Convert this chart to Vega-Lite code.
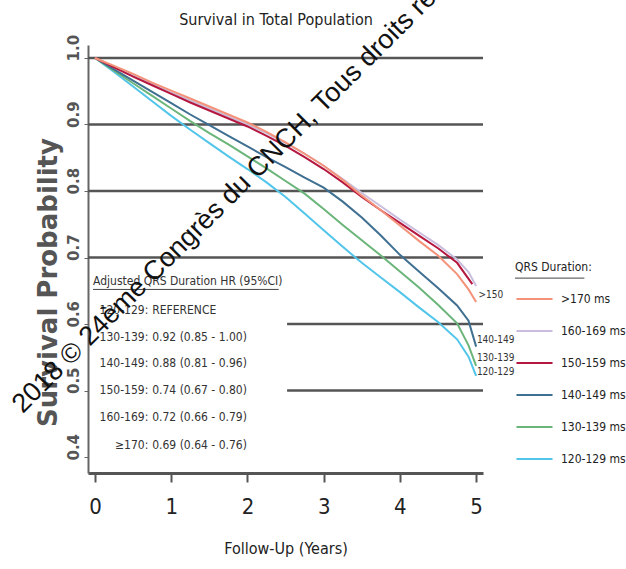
{
  "$schema": "https://vega.github.io/schema/vega-lite/v6.json",
  "width": 395,
  "height": 428,
  "autosize": {"type": "none"},
  "padding": {"left": 88, "top": 45, "right": 143, "bottom": 96},
  "background": "white",
  "config": {"view": {"stroke": null}, "font": "DejaVu Sans Condensed, Liberation Sans, sans-serif"},
  "datasets": {
    "km": [
      {"g": "120-129 ms", "year": 0, "surv": 1.0}, {"g": "120-129 ms", "year": 0.25, "surv": 0.979}, {"g": "120-129 ms", "year": 0.5, "surv": 0.957}, {"g": "120-129 ms", "year": 0.75, "surv": 0.935}, {"g": "120-129 ms", "year": 1, "surv": 0.913}, {"g": "120-129 ms", "year": 1.25, "surv": 0.892}, {"g": "120-129 ms", "year": 1.5, "surv": 0.872}, {"g": "120-129 ms", "year": 1.75, "surv": 0.852}, {"g": "120-129 ms", "year": 2, "surv": 0.833}, {"g": "120-129 ms", "year": 2.25, "surv": 0.813}, {"g": "120-129 ms", "year": 2.5, "surv": 0.791}, {"g": "120-129 ms", "year": 2.75, "surv": 0.766}, {"g": "120-129 ms", "year": 3, "surv": 0.741}, {"g": "120-129 ms", "year": 3.25, "surv": 0.716}, {"g": "120-129 ms", "year": 3.5, "surv": 0.692}, {"g": "120-129 ms", "year": 3.75, "surv": 0.67}, {"g": "120-129 ms", "year": 4, "surv": 0.648}, {"g": "120-129 ms", "year": 4.25, "surv": 0.625}, {"g": "120-129 ms", "year": 4.5, "surv": 0.603}, {"g": "120-129 ms", "year": 4.75, "surv": 0.577}, {"g": "120-129 ms", "year": 4.9, "surv": 0.551}, {"g": "120-129 ms", "year": 5, "surv": 0.522},
      {"g": "130-139 ms", "year": 0, "surv": 1.0}, {"g": "130-139 ms", "year": 0.25, "surv": 0.981}, {"g": "130-139 ms", "year": 0.5, "surv": 0.962}, {"g": "130-139 ms", "year": 0.75, "surv": 0.943}, {"g": "130-139 ms", "year": 1, "surv": 0.924}, {"g": "130-139 ms", "year": 1.25, "surv": 0.905}, {"g": "130-139 ms", "year": 1.5, "surv": 0.887}, {"g": "130-139 ms", "year": 1.75, "surv": 0.87}, {"g": "130-139 ms", "year": 2, "surv": 0.852}, {"g": "130-139 ms", "year": 2.25, "surv": 0.834}, {"g": "130-139 ms", "year": 2.5, "surv": 0.815}, {"g": "130-139 ms", "year": 2.75, "surv": 0.796}, {"g": "130-139 ms", "year": 3, "surv": 0.773}, {"g": "130-139 ms", "year": 3.25, "surv": 0.749}, {"g": "130-139 ms", "year": 3.5, "surv": 0.726}, {"g": "130-139 ms", "year": 3.75, "surv": 0.703}, {"g": "130-139 ms", "year": 4, "surv": 0.679}, {"g": "130-139 ms", "year": 4.25, "surv": 0.655}, {"g": "130-139 ms", "year": 4.5, "surv": 0.629}, {"g": "130-139 ms", "year": 4.75, "surv": 0.601}, {"g": "130-139 ms", "year": 4.9, "surv": 0.568}, {"g": "130-139 ms", "year": 5, "surv": 0.537},
      {"g": "140-149 ms", "year": 0, "surv": 1.0}, {"g": "140-149 ms", "year": 0.25, "surv": 0.983}, {"g": "140-149 ms", "year": 0.5, "surv": 0.966}, {"g": "140-149 ms", "year": 0.75, "surv": 0.949}, {"g": "140-149 ms", "year": 1, "surv": 0.932}, {"g": "140-149 ms", "year": 1.25, "surv": 0.915}, {"g": "140-149 ms", "year": 1.5, "surv": 0.899}, {"g": "140-149 ms", "year": 1.75, "surv": 0.883}, {"g": "140-149 ms", "year": 2, "surv": 0.867}, {"g": "140-149 ms", "year": 2.25, "surv": 0.851}, {"g": "140-149 ms", "year": 2.5, "surv": 0.836}, {"g": "140-149 ms", "year": 2.75, "surv": 0.82}, {"g": "140-149 ms", "year": 3, "surv": 0.805}, {"g": "140-149 ms", "year": 3.25, "surv": 0.784}, {"g": "140-149 ms", "year": 3.5, "surv": 0.76}, {"g": "140-149 ms", "year": 3.75, "surv": 0.733}, {"g": "140-149 ms", "year": 4, "surv": 0.704}, {"g": "140-149 ms", "year": 4.25, "surv": 0.679}, {"g": "140-149 ms", "year": 4.5, "surv": 0.654}, {"g": "140-149 ms", "year": 4.75, "surv": 0.628}, {"g": "140-149 ms", "year": 4.9, "surv": 0.605}, {"g": "140-149 ms", "year": 5, "surv": 0.566},
      {"g": "160-169 ms", "year": 0, "surv": 1.0}, {"g": "160-169 ms", "year": 0.25, "surv": 0.987}, {"g": "160-169 ms", "year": 0.5, "surv": 0.974}, {"g": "160-169 ms", "year": 0.75, "surv": 0.961}, {"g": "160-169 ms", "year": 1, "surv": 0.948}, {"g": "160-169 ms", "year": 1.25, "surv": 0.936}, {"g": "160-169 ms", "year": 1.5, "surv": 0.924}, {"g": "160-169 ms", "year": 1.75, "surv": 0.912}, {"g": "160-169 ms", "year": 2, "surv": 0.9}, {"g": "160-169 ms", "year": 2.25, "surv": 0.887}, {"g": "160-169 ms", "year": 2.5, "surv": 0.872}, {"g": "160-169 ms", "year": 2.75, "surv": 0.856}, {"g": "160-169 ms", "year": 3, "surv": 0.838}, {"g": "160-169 ms", "year": 3.25, "surv": 0.818}, {"g": "160-169 ms", "year": 3.5, "surv": 0.797}, {"g": "160-169 ms", "year": 3.75, "surv": 0.777}, {"g": "160-169 ms", "year": 4, "surv": 0.757}, {"g": "160-169 ms", "year": 4.25, "surv": 0.738}, {"g": "160-169 ms", "year": 4.5, "surv": 0.719}, {"g": "160-169 ms", "year": 4.75, "surv": 0.697}, {"g": "160-169 ms", "year": 4.9, "surv": 0.678}, {"g": "160-169 ms", "year": 5, "surv": 0.657},
      {"g": "150-159 ms", "year": 0, "surv": 1.0}, {"g": "150-159 ms", "year": 0.25, "surv": 0.986}, {"g": "150-159 ms", "year": 0.5, "surv": 0.972}, {"g": "150-159 ms", "year": 0.75, "surv": 0.959}, {"g": "150-159 ms", "year": 1, "surv": 0.946}, {"g": "150-159 ms", "year": 1.25, "surv": 0.933}, {"g": "150-159 ms", "year": 1.5, "surv": 0.921}, {"g": "150-159 ms", "year": 1.75, "surv": 0.909}, {"g": "150-159 ms", "year": 2, "surv": 0.897}, {"g": "150-159 ms", "year": 2.25, "surv": 0.883}, {"g": "150-159 ms", "year": 2.5, "surv": 0.868}, {"g": "150-159 ms", "year": 2.75, "surv": 0.851}, {"g": "150-159 ms", "year": 3, "surv": 0.833}, {"g": "150-159 ms", "year": 3.25, "surv": 0.813}, {"g": "150-159 ms", "year": 3.5, "surv": 0.791}, {"g": "150-159 ms", "year": 3.75, "surv": 0.771}, {"g": "150-159 ms", "year": 4, "surv": 0.752}, {"g": "150-159 ms", "year": 4.25, "surv": 0.733}, {"g": "150-159 ms", "year": 4.5, "surv": 0.714}, {"g": "150-159 ms", "year": 4.75, "surv": 0.692}, {"g": "150-159 ms", "year": 4.95, "surv": 0.66},
      {"g": ">170 ms", "year": 0, "surv": 1.0}, {"g": ">170 ms", "year": 0.25, "surv": 0.988}, {"g": ">170 ms", "year": 0.5, "surv": 0.976}, {"g": ">170 ms", "year": 0.75, "surv": 0.963}, {"g": ">170 ms", "year": 1, "surv": 0.951}, {"g": ">170 ms", "year": 1.25, "surv": 0.939}, {"g": ">170 ms", "year": 1.5, "surv": 0.927}, {"g": ">170 ms", "year": 1.75, "surv": 0.915}, {"g": ">170 ms", "year": 2, "surv": 0.903}, {"g": ">170 ms", "year": 2.25, "surv": 0.889}, {"g": ">170 ms", "year": 2.5, "surv": 0.873}, {"g": ">170 ms", "year": 2.75, "surv": 0.856}, {"g": ">170 ms", "year": 3, "surv": 0.838}, {"g": ">170 ms", "year": 3.25, "surv": 0.817}, {"g": ">170 ms", "year": 3.5, "surv": 0.793}, {"g": ">170 ms", "year": 3.75, "surv": 0.771}, {"g": ">170 ms", "year": 4, "surv": 0.748}, {"g": ">170 ms", "year": 4.25, "surv": 0.725}, {"g": ">170 ms", "year": 4.5, "surv": 0.703}, {"g": ">170 ms", "year": 4.75, "surv": 0.675}, {"g": ">170 ms", "year": 4.9, "surv": 0.652}, {"g": ">170 ms", "year": 5, "surv": 0.633}
    ],
    "hr": [
      {"key": "120-129:", "val": "REFERENCE", "surv": 0.621},
      {"key": "130-139:", "val": "0.92 (0.85 - 1.00)", "surv": 0.58},
      {"key": "140-149:", "val": "0.88 (0.81 - 0.96)", "surv": 0.541},
      {"key": "150-159:", "val": "0.74 (0.67 - 0.80)", "surv": 0.501},
      {"key": "160-169:", "val": "0.72 (0.66 - 0.79)", "surv": 0.46},
      {"key": "≥170:", "val": "0.69 (0.64 - 0.76)", "surv": 0.418}
    ],
    "ends": [
      {"lab": ">150", "year": 5.03, "surv": 0.644},
      {"lab": "140-149", "year": 5.01, "surv": 0.576},
      {"lab": "130-139", "year": 5.01, "surv": 0.549},
      {"lab": "120-129", "year": 5.01, "surv": 0.528}
    ]
  },
  "layer": [
    {
      "data": {"values": [{"surv": 1.0}, {"surv": 0.9}, {"surv": 0.8}, {"surv": 0.7}]},
      "mark": {"type": "rule", "color": "#555", "strokeWidth": 2.5},
      "encoding": {"y": {"field": "surv", "type": "quantitative", "scale": {"domain": [0.376, 1.0195], "nice": false, "zero": false}}}
    },
    {
      "data": {"values": [{"surv": 0.6}, {"surv": 0.5}]},
      "mark": {"type": "rule", "color": "#555", "strokeWidth": 2.5},
      "encoding": {
        "y": {"field": "surv", "type": "quantitative"},
        "x": {"datum": 2.52, "type": "quantitative"},
        "x2": {"datum": 5.09}
      }
    },
    {
      "data": {"name": "km"},
      "mark": {"type": "line", "strokeWidth": 2, "clip": false},
      "encoding": {
        "x": {"field": "year", "type": "quantitative", "scale": {"domain": [-0.092, 5.09], "nice": false, "zero": false},
          "axis": {"title": "Follow-Up (Years)", "values": [0, 1, 2, 3, 4, 5], "format": "d", "grid": false, "domainColor": "#555", "domainWidth": 3, "tickColor": "#555", "tickWidth": 2, "tickSize": 9, "labelFontSize": 22, "labelColor": "#222", "labelPadding": 14, "titleFontSize": 16, "titleFontWeight": "normal", "titleColor": "#222", "titlePadding": 23}},
        "y": {"field": "surv", "type": "quantitative", "scale": {"domain": [0.376, 1.0195], "nice": false, "zero": false},
          "axis": {"title": "Survival Probability", "values": [0.4, 0.5, 0.6, 0.7, 0.8, 0.9, 1.0], "format": ".1f", "grid": false, "labelAngle": 270, "labelAlign": "left", "labelBaseline": "bottom", "labelOffset": 3, "labelFont": "DejaVu Sans", "labelFontWeight": "bold", "labelFontSize": 15, "labelColor": "#555", "labelPadding": 3, "tickSize": 4, "tickColor": "#666", "domainColor": "#666", "domainWidth": 2, "titleFont": "DejaVu Sans", "titleFontSize": 26, "titleFontWeight": "bold", "titleColor": "#555", "titlePadding": 5, "titleY": 237}},
        "color": {"field": "g", "type": "nominal",
          "scale": {"domain": [">170 ms", "160-169 ms", "150-159 ms", "140-149 ms", "130-139 ms", "120-129 ms"], "range": ["#F4937A", "#C9BEDD", "#B5173F", "#3F6F91", "#6BB57A", "#52C5EA"]},
          "legend": {"title": "QRS Duration:", "orient": "none", "legendX": 427, "legendY": 217, "padding": 0, "titleFontSize": 12, "titleFontWeight": "normal", "titleColor": "#222", "titlePadding": 9, "labelFontSize": 12, "labelColor": "#222", "symbolType": "stroke", "symbolSize": 1300, "symbolStrokeWidth": 2, "rowPadding": 0, "labelOffset": 7, "clipHeight": 32, "labelLimit": 120}},
        "order": {"field": "year", "type": "quantitative"}
      }
    },
    {
      "data": {"values": [{"t": "Survival in Total Population"}]},
      "mark": {"type": "text", "align": "center", "baseline": "middle", "fontSize": 16, "color": "#222"},
      "encoding": {"text": {"field": "t"}, "x": {"datum": 2.375, "type": "quantitative"}, "y": {"datum": 1.057, "type": "quantitative"}}
    },
    {
      "data": {"values": [{"t": "Adjusted QRS Duration HR (95%CI)"}]},
      "mark": {"type": "text", "align": "left", "baseline": "middle", "fontSize": 12, "color": "#333"},
      "encoding": {"text": {"field": "t"}, "x": {"datum": -0.026, "type": "quantitative"}, "y": {"datum": 0.665, "type": "quantitative"}}
    },
    {
      "data": {"values": [{}]},
      "mark": {"type": "rule", "color": "#444", "strokeWidth": 1},
      "encoding": {"x": {"datum": -0.026, "type": "quantitative"}, "x2": {"datum": 2.41}, "y": {"datum": 0.652, "type": "quantitative"}}
    },
    {
      "data": {"name": "hr"},
      "mark": {"type": "text", "align": "right", "baseline": "middle", "fontSize": 12, "color": "#333"},
      "encoding": {"text": {"field": "key"}, "x": {"datum": 0.7, "type": "quantitative"}, "y": {"field": "surv", "type": "quantitative"}}
    },
    {
      "data": {"name": "hr"},
      "mark": {"type": "text", "align": "left", "baseline": "middle", "fontSize": 12, "color": "#333"},
      "encoding": {"text": {"field": "val"}, "x": {"datum": 0.75, "type": "quantitative"}, "y": {"field": "surv", "type": "quantitative"}}
    },
    {
      "data": {"name": "ends"},
      "mark": {"type": "text", "align": "left", "baseline": "middle", "fontSize": 10, "color": "#333"},
      "encoding": {"text": {"field": "lab"}, "x": {"field": "year", "type": "quantitative"}, "y": {"field": "surv", "type": "quantitative"}}
    },
    {
      "data": {"values": [{}]},
      "mark": {"type": "rule", "color": "#444", "strokeWidth": 1},
      "encoding": {"x": {"datum": 5.51, "type": "quantitative"}, "x2": {"datum": 6.42}, "y": {"datum": 0.669, "type": "quantitative"}}
    },
    {
      "data": {"values": [{"t": "2018 © 24ème Congrès du CNCH, Tous droits réservés"}]},
      "mark": {"type": "text", "align": "center", "baseline": "middle", "fontSize": 27, "font": "Liberation Sans", "color": "#111", "angle": -45},
      "encoding": {"text": {"field": "t"}, "x": {"datum": 2.067, "type": "quantitative"}, "y": {"datum": 0.827, "type": "quantitative"}}
    }
  ]
}
